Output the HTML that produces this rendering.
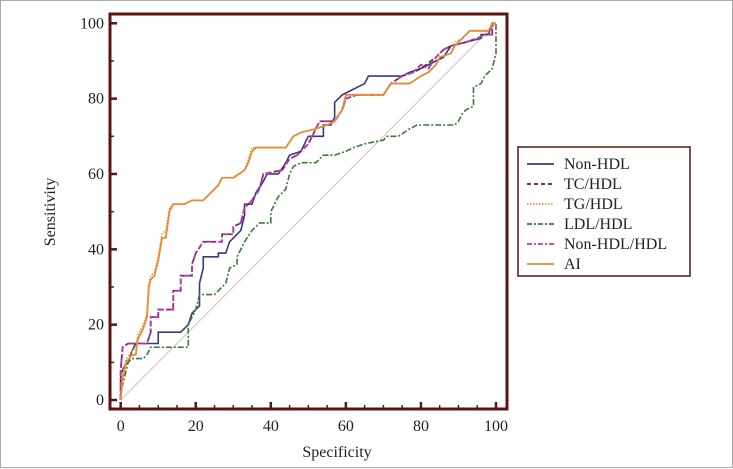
<!DOCTYPE html>
<html><head><meta charset="utf-8"><style>
html,body{margin:0;padding:0;background:#fff}
svg{display:block;font-family:"Liberation Serif",serif}
</style></head><body>
<svg width="733" height="469" viewBox="0 0 733 469">
<rect x="0.5" y="0.5" width="732" height="467" fill="#fff" stroke="#aaa"/>
<g id="ticks"></g>
<line x1="120.7" y1="400" x2="496" y2="23.3" stroke="#d8a8a8" stroke-width="0.8"/>
<g id="series"></g>
<rect x="110" y="14" width="397" height="395" fill="none" stroke="#5a1414" stroke-width="3"/>
<text x="337" y="457" font-size="16" text-anchor="middle" fill="#222">Specificity</text>
<text transform="translate(55,212) rotate(-90)" font-size="16" text-anchor="middle" fill="#222">Sensitivity</text>
<g>
<rect x="518" y="147" width="172" height="129" fill="#fff" stroke="#5a1414" stroke-width="1.5"/>
<g id="legend"></g>
</g>
</svg>
<script>
const xTicks=[0,20,40,60,80,100];
const yTicks=[0,20,40,60,80,100];
const seriesNames=["Non-HDL","TC/HDL","TG/HDL","LDL/HDL","Non-HDL/HDL","AI"];
const nonHdl=[[0,0],[0,7],[1,9],[2,10],[3,13],[4,15],[10,15],[10,18],[16,18],[18,20],[19,23],[20,24],[21,25],[21,31],[22,35],[22,38],[26,38],[26,39],[28,39],[29,42],[30,43],[32,45],[33,49],[33,52],[35,52],[36,55],[38,58],[39,60],[42,60],[44,63],[45,65],[48,66],[49,68],[50,70],[54,70],[54,73],[56,73],[57,75],[57,79],[59,81],[61,82],[65,84],[66,86],[75,86],[77,87],[80,88],[82,89],[86,91],[88,94],[92,95],[96,96],[96,97],[98,97],[99,100],[100,100]];
const tcHdl=[[0,0],[0,8],[0.5,14],[2,15],[7,15],[8,18],[8,22],[10,22],[10,24],[14,24],[14,29],[16,29],[16,33],[19,33],[19,36],[20,39],[22,42],[27,42],[27,44],[30,44],[30,46],[32,47],[33,51],[35,53],[37,56],[38,60],[43,61],[45,64],[47,65],[50,68],[52,72],[53,74],[57,74],[59,77],[60,80],[63,81],[70,81],[72,84],[75,86],[78,87],[80,88],[84,91],[86,93],[88,94],[92,95],[95,96],[97,97],[99,97],[99,100],[100,100]];
const tgHdl=[[0,0],[0.5,7],[1.5,11],[3,13],[4,14],[4.5,17],[6,20],[7,23],[7.5,31],[8,33],[9,34],[10,38],[11,44],[12,45],[13,51],[14,52],[17,52],[19,53],[22,53],[24,55],[26,57],[27,59],[30,59],[33,61],[34,64],[35,67],[36,67],[44,67],[46,70],[48,71],[52,72],[55,73],[57,74],[59,77],[60,81],[62,81],[70,81],[72,84],[77,84],[80,86],[82,87],[84,89],[85,91],[88,92],[89,95],[91,96],[93,98],[98,98],[99,100],[100,100]];
const ldlHdl=[[0,0],[0,2],[1,6],[2,10],[3,11],[6,11],[7,12],[8,14],[18,14],[18,20],[20,24],[21,28],[25,28],[27,30],[28,31],[29,35],[31,36],[31,38],[33,42],[35,45],[37,47],[40,47],[40,50],[42,54],[44,56],[45,60],[46,62],[48,63],[52,63],[54,65],[57,65],[60,66],[62,67],[65,68],[70,69],[71,70],[74,70],[77,72],[79,73],[89,73],[90,74],[91,76],[92,77],[94,78],[94,83],[96,84],[97,86],[99,88],[100,92],[100,100]];
const nonHdlHdl=[[0,0],[0,8],[0.5,14],[2,15],[7,15],[8,18],[8,22],[10,22],[10,24],[14,24],[14,29],[16,29],[16,33],[19,33],[19,36],[20,39],[22,42],[27,42],[27,44],[30,44],[30,46],[32,47],[33,51],[35,53],[37,56],[38,60],[43,61],[45,64],[47,65],[50,68],[52,72],[53,74],[57,74],[59,77],[60,80],[63,81],[70,81],[72,84],[75,86],[78,87],[80,89],[82,88],[84,91],[86,93],[88,94],[92,95],[95,96],[97,97],[99,97],[99,100],[100,100]];
const ai=[[0,0],[0.5,6],[1.5,10],[3,12],[4,12],[4.5,16],[6,19],[7,22],[7.5,30],[8,32],[9,33],[10,37],[11,43],[12,43],[13,50],[14,52],[17,52],[19,53],[22,53],[24,55],[26,57],[27,59],[30,59],[33,61],[34,63],[35,66],[36,67],[44,67],[46,70],[48,71],[52,72],[55,73],[57,74],[59,77],[60,81],[62,81],[70,81],[72,84],[77,84],[80,86],[82,87],[84,89],[85,91],[88,92],[89,94],[91,96],[93,98],[98,98],[99,100],[100,100]];

const NS="http://www.w3.org/2000/svg";
const X=v=>120.7+v*(496-120.7)/100;
const Y=v=>400-v*(400-23.3)/100;
function mk(t,a,p){const e=document.createElementNS(NS,t);for(const k in a)e.setAttribute(k,a[k]);p.appendChild(e);return e;}
const tg=document.getElementById('ticks');
for(let v=0;v<=100;v+=5){
  const big=v%20===0;
  const t=mk('line',{x1:X(v),x2:X(v),y1:409,y2:big?402:405,stroke:'#5a1414','stroke-width':big?2.5:1.5},tg);
  
  
}
for(let v=0;v<=100;v+=10){
  const big=v%20===0;
  const t=mk('line',{x1:110,x2:big?117:114,y1:Y(v),y2:Y(v),stroke:'#5a1414','stroke-width':big?2.5:1.5},tg);
  
  
}
xTicks.forEach(v=>{const t=mk('text',{x:X(v),y:431,'font-size':16,'text-anchor':'middle',fill:'#222'},tg);t.textContent=v;
  
  });
yTicks.forEach(v=>{const t=mk('text',{x:104,y:Y(v)+5,'font-size':16,'text-anchor':'end',fill:'#222'},tg);t.textContent=v;
  
  });
const styles=[
 {d:nonHdl,c:'#3a3a7a',da:'',w:1.6,n:'non-hdl-line'},
 {d:tcHdl,c:'#6a1a1a',da:'5,3',w:1.6,n:'tc-hdl-line'},
 {d:ldlHdl,c:'#3a7a3a',da:'6,2,2,2',w:1.6,n:'ldl-hdl-line'},
 {d:nonHdlHdl,c:'#b040b0',da:'6,2,2,2',w:2,n:'non-hdl-hdl-line'},
 {d:tgHdl,c:'#e0a040',da:'1.5,1.5',w:1.6,n:'tg-hdl-line'},
 {d:ai,c:'#e88a30',da:'',w:1.8,n:'ai-line'}];
const sg=document.getElementById('series');
styles.forEach(s=>{
  const p=mk('polyline',{points:s.d.map(q=>X(q[0])+','+Y(q[1])).join(' '),fill:'none',stroke:s.c,'stroke-width':s.w,'stroke-dasharray':s.da},sg);
  
  
});
const leg=[['#3a3a7a',''],['#6a1a1a','4,3'],['#e0a040','1.5,1.5'],['#3a7a3a','5,2,2,2'],['#b040b0','5,2,2,2'],['#e88a30','']];
const lg=document.getElementById('legend');
seriesNames.forEach((n,i)=>{
  const y=164+i*20;
  const l=mk('line',{x1:527,x2:554,y1:y,y2:y,stroke:leg[i][0],'stroke-width':1.8,'stroke-dasharray':leg[i][1]},lg);
  
  
  const t=mk('text',{x:564,y:y+5,'font-size':16,fill:'#222'},lg);t.textContent=n;
  
  
});
</script>
</body></html>
